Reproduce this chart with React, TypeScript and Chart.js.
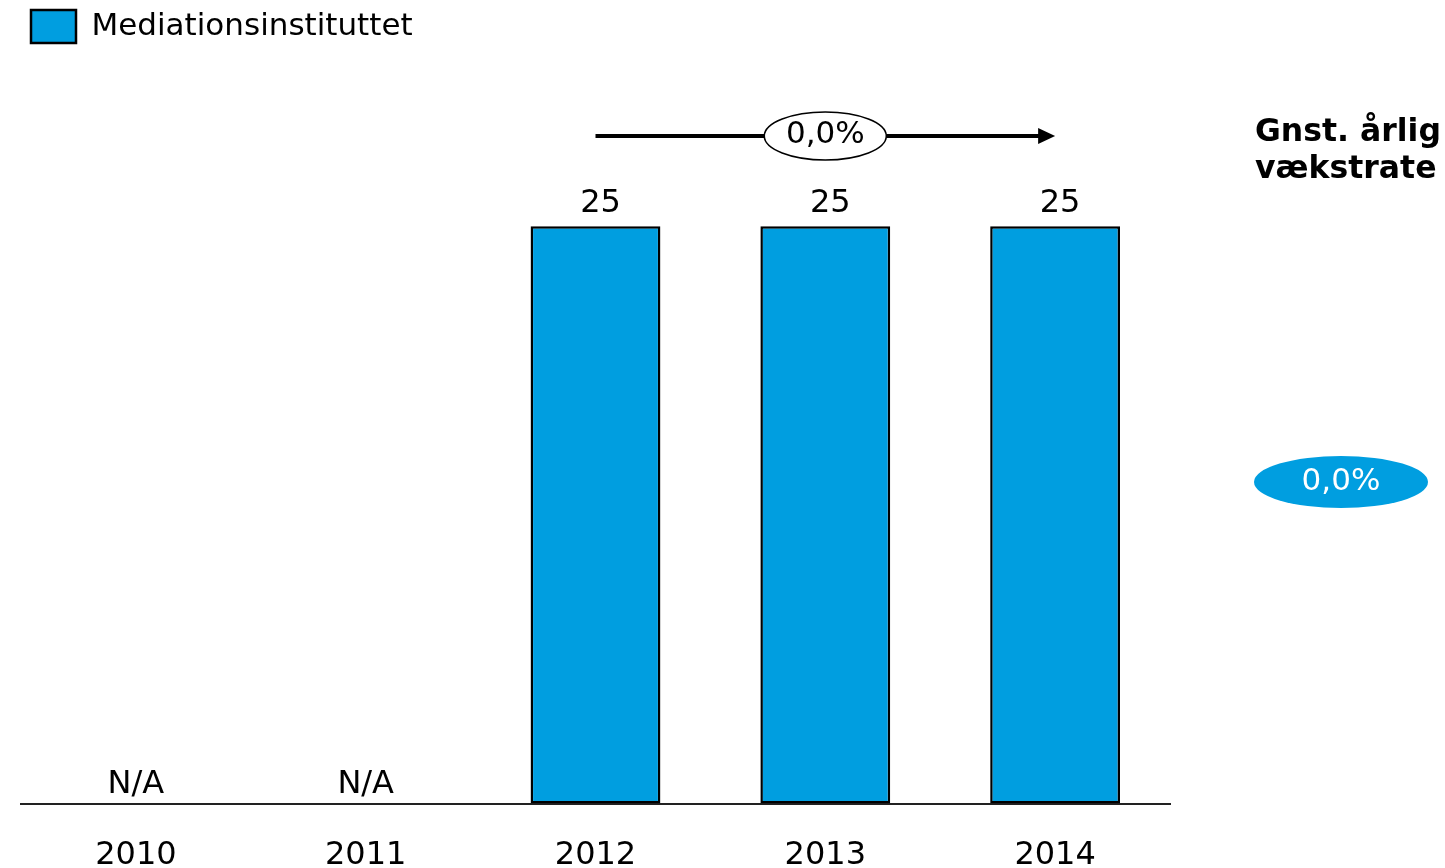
import React, { useEffect, useRef } from "react";
import { Chart, registerables } from "chart.js";

Chart.register(...registerables);

const categories = ["2010", "2011", "2012", "2013", "2014"];
const seriesName = "Mediationsinstituttet";
const values: (number | null)[] = [null, null, 25, 25, 25];
const missingLabel = "N/A";
const growthLabel = "0,0%";
const sideTitle = ["Gnst. årlig", "vækstrate"];
const sideValue = "0,0%";

const BLUE = "#009EE0";
const FONT = "'DejaVu Sans', Verdana, sans-serif";

const annotations = {
  id: "annotations",
  afterDatasetsDraw(chart: any) {
    const ctx = chart.ctx;
    const x = chart.scales.x;
    const y = chart.scales.y;
    const base = y.getPixelForValue(0);
    ctx.save();
    ctx.fillStyle = "#000";
    ctx.textAlign = "center";
    ctx.textBaseline = "alphabetic";
    ctx.font = `32px ${FONT}`;
    values.forEach((v, i) => {
      const px = x.getPixelForValue(i);
      if (v == null) {
        ctx.fillText(missingLabel, px, base - 11);
      } else {
        ctx.fillText(String(v), px + 5, y.getPixelForValue(v) - 14);
      }
    });

    // growth arrow
    const first = values.findIndex((v) => v != null);
    const last = values.length - 1;
    const x0 = x.getPixelForValue(first);
    const x1 = x.getPixelForValue(last);
    const ay = 136;
    ctx.strokeStyle = "#000";
    ctx.lineWidth = 4;
    ctx.beginPath();
    ctx.moveTo(x0, ay);
    ctx.lineTo(x1 - 14, ay);
    ctx.stroke();
    ctx.beginPath();
    ctx.moveTo(x1, ay);
    ctx.lineTo(x1 - 17, ay - 8);
    ctx.lineTo(x1 - 17, ay + 8);
    ctx.closePath();
    ctx.fillStyle = "#000";
    ctx.fill();
    const cx = (x0 + x1) / 2;
    ctx.beginPath();
    ctx.ellipse(cx, ay, 61, 24, 0, 0, Math.PI * 2);
    ctx.fillStyle = "#fff";
    ctx.fill();
    ctx.lineWidth = 1.5;
    ctx.stroke();
    ctx.fillStyle = "#000";
    ctx.font = `31px ${FONT}`;
    ctx.textBaseline = "middle";
    ctx.fillText(growthLabel, cx, ay - 1);

    // side panel
    ctx.textAlign = "left";
    ctx.textBaseline = "alphabetic";
    ctx.font = `bold 31.5px ${FONT}`;
    ctx.fillText(sideTitle[0], 1255, 141);
    ctx.fillText(sideTitle[1], 1255, 178);
    ctx.beginPath();
    ctx.ellipse(1341, 482, 87, 26, 0, 0, Math.PI * 2);
    ctx.fillStyle = BLUE;
    ctx.fill();
    ctx.fillStyle = "#fff";
    ctx.font = `31px ${FONT}`;
    ctx.textAlign = "center";
    ctx.textBaseline = "middle";
    ctx.fillText(sideValue, 1341, 482);
    ctx.restore();
  },
};

export default function App() {
  const ref = useRef<HTMLCanvasElement>(null);
  useEffect(() => {
    if (!ref.current) return;
    const chart = new Chart(ref.current, {
      type: "bar",
      data: {
        labels: categories,
        datasets: [
          {
            label: seriesName,
            data: values,
            backgroundColor: BLUE,
            borderColor: "#000",
            borderWidth: 2.5,
            borderSkipped: false,
            barPercentage: 0.565,
            categoryPercentage: 1,
          },
        ],
      },
      options: {
        animation: false,
        responsive: false,
        layout: { padding: { left: 21, right: 275, top: 0, bottom: 0 } },
        plugins: {
          legend: {
            display: true,
            position: "top",
            align: "start",
            labels: {
              boxWidth: 45,
              boxHeight: 33,
              color: "#000",
              font: { family: FONT, size: 31 },
              padding: 10,
            },
          },
          tooltip: { enabled: false },
        },
        scales: {
          x: {
            grid: { display: false, drawTicks: false },
            border: { display: true, color: "#222", width: 2 },
            ticks: {
              color: "#000",
              font: { family: FONT, size: 32 },
              padding: 33,
              maxRotation: 0,
            },
          },
          y: {
            display: false,
            min: 0,
            max: 32.5,
          },
        },
      },
      plugins: [annotations],
    });
    return () => chart.destroy();
  }, []);
  return (
    <div style={{ position: "fixed", left: 0, top: 0, width: 1445, height: 908, background: "#fff" }}>
      <canvas ref={ref} width={1445} height={908} style={{ display: "block" }} />
    </div>
  );
}
